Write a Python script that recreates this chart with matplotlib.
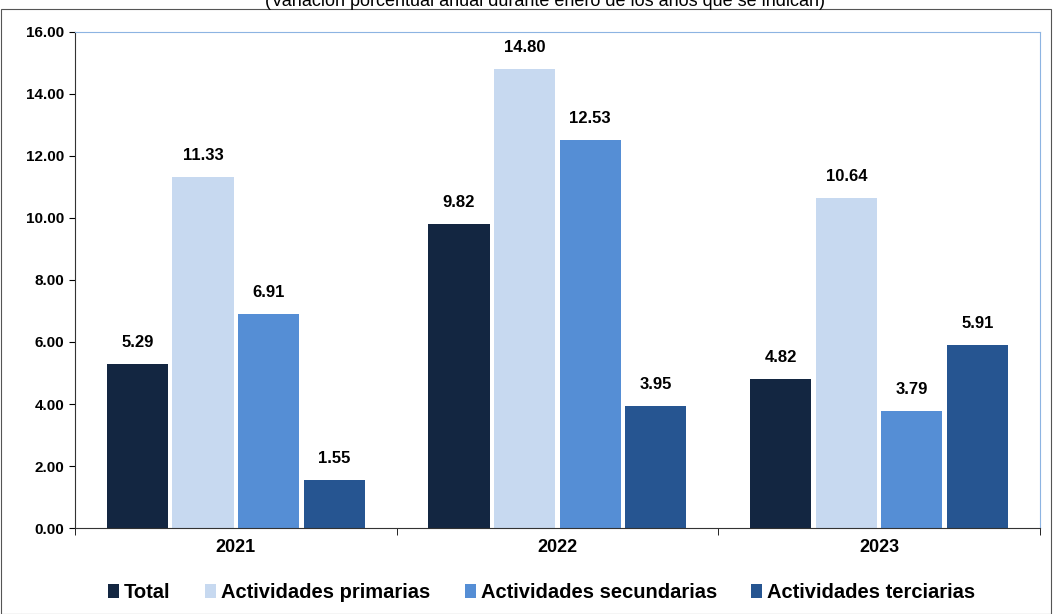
import matplotlib
matplotlib.use("Agg")
import matplotlib.pyplot as plt
import numpy as np
from matplotlib.patches import Rectangle

plt.rcParams['font.family'] = ['Liberation Sans', 'DejaVu Sans']

years = ["2021", "2022", "2023"]
series = ["Total", "Actividades primarias", "Actividades secundarias", "Actividades terciarias"]
values = [
    [5.29, 9.82, 4.82],
    [11.33, 14.80, 10.64],
    [6.91, 12.53, 3.79],
    [1.55, 3.95, 5.91],
]
colors = ["#132641", "#C7D9F0", "#558ED5", "#265591"]

fig = plt.figure(figsize=(10.58, 6.14), dpi=100)
ax = fig.add_axes([0.0709, 0.140, 0.912, 0.808])
fig.patches.append(Rectangle((0.001, 0.0), 0.992, 0.985, transform=fig.transFigure,
                             fill=False, edgecolor="#555555", lw=0.8))
fig.text(0.515, 0.998, "(Variación porcentual anual durante enero de los años que se indican)",
         ha="center", va="center", fontsize=13)

x = np.arange(len(years))
w = 0.19
step = 0.204
for i, (s, v, c) in enumerate(zip(series, values, colors)):
    pos = x + (i - 1.5) * step
    ax.bar(pos, v, width=w, color=c, label=s)
    for p, val in zip(pos, v):
        ax.text(p, val + 0.45, f"{val:.2f}", ha="center", va="bottom",
                fontsize=12, fontweight="bold")

ax.set_xlim(-0.5, 2.5)
ax.set_ylim(0, 16)
ax.set_yticks(np.arange(0, 17, 2))
ax.set_yticklabels([f"{t:.2f}" for t in np.arange(0, 17, 2)], fontsize=11, fontweight="bold")
ax.set_xticks(x)
ax.set_xticklabels(years, fontsize=13, fontweight="bold")
ax.tick_params(axis="x", length=0, pad=8)
ax.set_xticks([-0.5, 0.5, 1.5, 2.5], minor=True)
ax.tick_params(axis="x", which="minor", length=5, direction="out")
ax.tick_params(axis="y", length=4)
for sp in ["top", "right"]:
    ax.spines[sp].set_color("#8DB4E2")
for sp in ["left", "bottom"]:
    ax.spines[sp].set_color("#333333")

leg = fig.legend(loc="lower center", bbox_to_anchor=(0.512, -0.01), ncol=4, frameon=False,
                 prop={"size": 14.5, "weight": "bold"}, handlelength=0.55, handleheight=0.7,
                 handletextpad=0.25, columnspacing=1.7)
fig.savefig("out.png", dpi=100)
